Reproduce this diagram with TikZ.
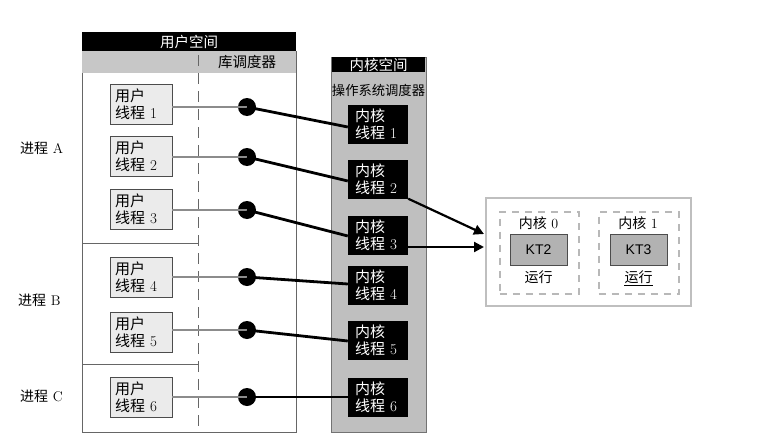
\documentclass[tikz,border=0pt]{standalone}
\usepackage{fontspec}
\newfontfamily\cjk{Noto Sans CJK SC}
\newfontfamily\sansf{Liberation Sans}
\usetikzlibrary{arrows.meta,calc}
\tikzset{
  ut/.style={draw=black!70, fill=black!8, line width=0.8pt, text width=52pt, inner xsep=5pt, inner ysep=0pt,
    minimum height=40pt, align=left, font=\fontsize{15}{17}\selectfont},
  kt/.style={fill=black, text=white, text width=46pt, inner xsep=7pt, inner ysep=0pt,
    minimum height=39pt, align=left, font=\fontsize{15}{17}\selectfont},
  jdot/.style={circle, fill=black, minimum size=18pt, inner sep=0pt},
  glink/.style={draw=black!45, line width=2.8pt},
  klink/.style={draw=black, line width=2.8pt},
  hdr/.style={fill=black, text=white, inner sep=0pt, font=\cjk\fontsize{14.5}{14.5}\selectfont},
  lbl/.style={inner sep=0pt, font=\fontsize{14}{14}\selectfont},
  core/.style={draw=black!28, dashed, line width=1.5pt, dash pattern=on 7pt off 6pt},
  ktc/.style={draw=black!70, fill=black!30, minimum width=57pt, minimum height=31pt, inner sep=0pt,
    font=\sansf\fontsize{14}{14}\selectfont},
  arr/.style={draw=black, line width=2.2pt, -{Triangle[length=10pt,width=10pt]}}
}
\begin{document}
\begin{tikzpicture}[x=1pt,y=-1pt]
\useasboundingbox[fill=white] (0,0) rectangle (766,447);
% user space
\draw[draw=black!60, line width=0.8pt, fill=white] (82,51) rectangle (296,432);
\fill[black!22] (82,51) rectangle (296,73);
\node[hdr, minimum width=214pt, minimum height=19pt, anchor=north west] (uh) at (82,32) {用户空间};
\node[lbl, font=\cjk\fontsize{14.5}{14.5}\selectfont] (ls) at (247,62) {库调度器};
\draw[black!60, line width=1pt, dash pattern=on 11pt off 7pt] (198,55) -- (198,432);
\draw[black!60, line width=1pt] (82,243) -- (198,243);
\draw[black!60, line width=1pt] (82,364) -- (198,364);
% kernel space
\draw[draw=black!55, line width=1pt, fill=black!25] (331,57) rectangle (426,432);
\node[hdr, minimum width=93pt, minimum height=15pt, anchor=north west] (kh) at (332,57) {内核空间};
\node[lbl, font=\cjk\fontsize{13.3}{13.3}\selectfont] (os) at (378.5,90) {操作系统调度器};
% process labels
\node[lbl, anchor=west] (pa) at (20,148) {{\cjk 进程} A};
\node[lbl, anchor=west] (pb) at (18,300) {{\cjk 进程} B};
\node[lbl, anchor=west] (pc) at (20,396) {{\cjk 进程} C};
% user threads
\node[ut] (u1) at (141,104) {{\cjk 用户}\\{\cjk 线程} 1};
\node[ut] (u2) at (141,156.5) {{\cjk 用户}\\{\cjk 线程} 2};
\node[ut] (u3) at (141,209.5) {{\cjk 用户}\\{\cjk 线程} 3};
\node[ut] (u4) at (141,277) {{\cjk 用户}\\{\cjk 线程} 4};
\node[ut] (u5) at (141,332) {{\cjk 用户}\\{\cjk 线程} 5};
\node[ut] (u6) at (141,397) {{\cjk 用户}\\{\cjk 线程} 6};
% kernel threads
\node[kt] (k1) at (378,124.5) {{\cjk 内核}\\{\cjk 线程} 1};
\node[kt] (k2) at (378,179) {{\cjk 内核}\\{\cjk 线程} 2};
\node[kt] (k3) at (378,235) {{\cjk 内核}\\{\cjk 线程} 3};
\node[kt] (k4) at (378,285.5) {{\cjk 内核}\\{\cjk 线程} 4};
\node[kt] (k5) at (378,340.5) {{\cjk 内核}\\{\cjk 线程} 5};
\node[kt] (k6) at (378,397) {{\cjk 内核}\\{\cjk 线程} 6};
% dots
\foreach \i/\y in {1/107,2/157,3/210,4/277,5/330,6/397}{
  \node[jdot] (d\i) at (247,\y) {};
}
\foreach \i in {1,...,6}{
  \draw[glink] (u\i.east |- d\i) -- (d\i.center);
}
\draw[klink] (d1.center) -- (k1.west |- 0,127);
\draw[klink] (d2.center) -- (k2.west |- 0,181);
\draw[klink] (d3.center) -- (k3.west |- 0,236);
\draw[klink] (d4.center) -- (k4.west |- 0,284);
\draw[klink] (d5.center) -- (k5.west |- 0,341);
\draw[klink] (d6.center) -- (k6.west |- 0,397);
% cores
\draw[draw=black!25, line width=1.5pt] (486,198) rectangle (691,306);
\node[core, minimum width=79pt, minimum height=82pt, anchor=north west] (c0) at (499,211) {};
\node[core, minimum width=80pt, minimum height=82pt, anchor=north west] (c1) at (598,211) {};
\node[lbl] (c0t) at (538.5,223) {{\cjk 内核} 0};
\node[lbl] (c1t) at (638,223) {{\cjk 内核} 1};
\node[ktc] (kt2) at (538.5,249.5) {KT2};
\node[ktc] (kt3) at (638.5,249.5) {KT3};
\node[lbl, font=\cjk\fontsize{14}{14}\selectfont] (r0) at (538.5,277) {运行};
\node[lbl, font=\cjk\fontsize{14}{14}\selectfont] (r1) at (638.5,277) {运行};
\draw[black, line width=1pt] ($(r1.south west)+(0,2)$) -- ($(r1.south east)+(0,2)$);
\coordinate (a1) at (484,234);
\coordinate (a2) at (484,247);
\draw[arr] (k2.south east) -- (a1);
\draw[arr] (k3.east |- a2) -- (a2);
\end{tikzpicture}
\end{document}
